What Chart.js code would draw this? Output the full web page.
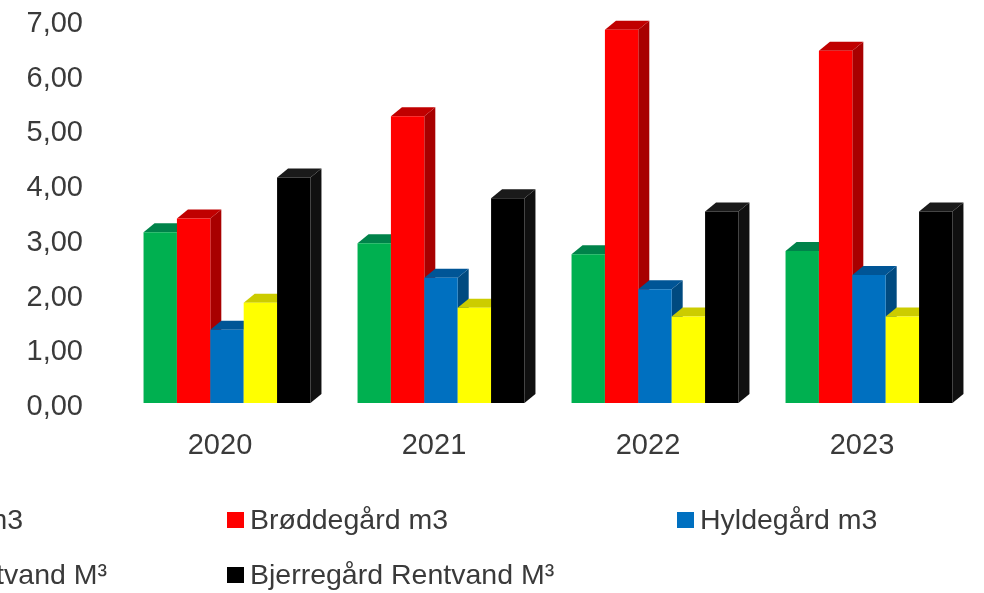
<!DOCTYPE html>
<html>
<head>
<meta charset="utf-8">
<script src="https://cdn.jsdelivr.net/npm/chart.js@4.4.1/dist/chart.umd.min.js"></script>
<style>
  body { margin: 0; background: #fff; }
  #wrap { position: relative; width: 984px; height: 593px; overflow: hidden; }
  #legend div { position: absolute; white-space: nowrap; font: 28.5px "Liberation Sans", Arial, sans-serif; color: #3a3a3a; display: flex; align-items: center; }
  #legend span.box { display: inline-block; width: 17px; height: 16px; margin-right: 6px; }
</style>
</head>
<body>
<div id="wrap">
  <canvas id="chart" width="984" height="593"></canvas>
  <div id="legend"></div>
</div>
<script>
const years = ['2020', '2021', '2022', '2023'];
const yTicks = [0, 1, 2, 3, 4, 5, 6, 7];

const seriesNames = ['Bjerregård m3', 'Brøddegård m3', 'Hyldegård m3', 'Hyldegård Rentvand M³', 'Bjerregård Rentvand M³'];
const seriesColors = ['#00b050', '#ff0000', '#0070c0', '#ffff00', '#000000'];
const topColors = ['#00834a', '#c00000', '#005596', '#cccc00', '#1a1a1a'];
const sideColors = ['#006b3a', '#a80000', '#004a80', '#b3b300', '#101010'];

const bjerregard = [3.12, 2.92, 2.72, 2.78];
const brodde = [3.37, 5.24, 6.82, 6.44];
const hyldegard = [1.34, 2.29, 2.08, 2.34];
const hyldeRent = [1.83, 1.74, 1.58, 1.58];
const bjerreRent = [4.12, 3.74, 3.50, 3.50];

const seriesValues = [bjerregard, brodde, hyldegard, hyldeRent, bjerreRent];

// draw bars left to right with a side and a top face, so each one covers the side of the one before
const bars3d = {
  id: 'bars3d',
  beforeDatasetsDraw(chart) {
    const ctx = chart.ctx;
    const dx = 11, dy = -9;
    chart.data.datasets.forEach((ds, i) => {
      const meta = chart.getDatasetMeta(i);
      meta.data.forEach(bar => {
        const { x, y, base, width } = bar.getProps(['x', 'y', 'base', 'width'], true);
        const l = x - width / 2, r = x + width / 2;
        ctx.save();
        ctx.fillStyle = sideColors[i];
        ctx.beginPath();
        ctx.moveTo(r, y);
        ctx.lineTo(r + dx, y + dy);
        ctx.lineTo(r + dx, base + dy);
        ctx.lineTo(r, base);
        ctx.closePath();
        ctx.fill();
        ctx.fillStyle = topColors[i];
        ctx.beginPath();
        ctx.moveTo(l, y);
        ctx.lineTo(l + dx, y + dy);
        ctx.lineTo(r + dx, y + dy);
        ctx.lineTo(r, y);
        ctx.closePath();
        ctx.fill();
        ctx.restore();
        bar.draw(ctx);
      });
    });
    return false;
  }
};

Chart.defaults.font.family = '"Liberation Sans", Arial, sans-serif';
Chart.defaults.font.size = 29;
Chart.defaults.color = '#3a3a3a';

new Chart(document.getElementById('chart'), {
  type: 'bar',
  data: {
    labels: years,
    datasets: seriesNames.map((name, i) => ({
      label: name,
      data: seriesValues[i],
      backgroundColor: seriesColors[i],
      borderWidth: 0,
      barPercentage: 1,
      categoryPercentage: 0.78
    }))
  },
  options: {
    responsive: false,
    animation: false,
    devicePixelRatio: 1,
    layout: { padding: { top: 20, right: 8, bottom: 130, left: 0 } },
    plugins: { legend: { display: false }, tooltip: { enabled: false } },
    scales: {
      x: {
        grid: { display: false, drawTicks: false },
        border: { display: false },
        ticks: { padding: 26, labelOffset: -7 },
        afterFit: s => { s.height = 60; }
      },
      y: {
        min: 0,
        max: 7,
        afterBuildTicks: s => { s.ticks = yTicks.map(v => ({ value: v })); },
        grid: { display: false, drawTicks: false },
        border: { display: false },
        ticks: {
          padding: 37,
          labelOffset: 4,
          callback: v => v.toFixed(2).replace('.', ',')
        },
        afterFit: s => { s.width = 120; s.paddingTop = 0; }
      }
    }
  },
  plugins: [bars3d]
});

// legend laid out like the original: three columns, the first one partly outside the frame
const legendCols = [-223, 227, 677];
const legendRows = [520, 575];
const legend = document.getElementById('legend');
seriesNames.forEach((name, i) => {
  const col = i % 3, row = Math.floor(i / 3);
  const item = document.createElement('div');
  item.innerHTML = '<span class="box" style="background:' + seriesColors[i] + '"></span><span>' + name + '</span>';
  item.style.top = (legendRows[row] - 17) + 'px';
  item.style.left = legendCols[col] + 'px';
  legend.appendChild(item);
  if (col === 0) {
    // pin the visible end of the cut item instead of its start
    const ends = [23, 107];
    item.style.left = 'auto';
    item.style.right = (984 - ends[row]) + 'px';
  }
});
</script>
</body>
</html>
